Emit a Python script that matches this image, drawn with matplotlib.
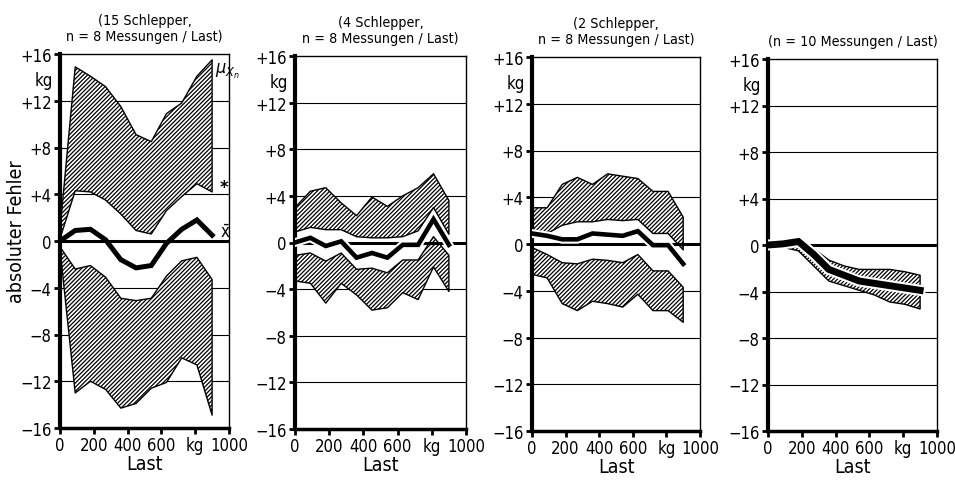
import numpy as np
import matplotlib
matplotlib.use("Agg")
import matplotlib.pyplot as plt
import matplotlib.patheffects as pe
import matplotlib.transforms as mtrans
from matplotlib import font_manager

# pick a narrow font if one is installed
narrow = [f for f in font_manager.fontManager.ttflist
          if 'Narrow' in f.name or f.stretch in ('condensed', 'semi-condensed')]
if narrow:
    plt.rcParams['font.family'] = [narrow[0].name, 'DejaVu Sans']
    plt.rcParams['font.stretch'] = narrow[0].stretch
    fs = 1.0
else:
    plt.rcParams['font.family'] = ['DejaVu Sans']
    fs = 0.85
plt.rcParams['hatch.linewidth'] = 0.9

# Last (kg) at which was measured
last = [0, 90, 180, 270, 360, 450, 540, 630, 720, 810, 900]

# panel 1: 15 Schlepper
p1_up_hi = [1.0, 14.9, 14.1, 13.2, 11.5, 9.1, 8.5, 10.9, 11.8, 14.1, 15.5]
p1_up_lo = [0.2, 4.3, 4.2, 3.5, 2.3, 0.9, 0.6, 2.6, 3.8, 4.9, 4.2]
p1_mean = [0.0, 0.9, 1.0, 0.1, -1.6, -2.3, -2.1, -0.2, 1.0, 1.8, 0.5]
p1_lo_hi = [-0.5, -2.4, -2.1, -3.1, -4.9, -5.1, -4.9, -3.0, -1.7, -1.4, -3.3]
p1_lo_lo = [-0.7, -13.0, -12.0, -12.7, -14.3, -13.9, -12.6, -12.1, -10.0, -10.6, -14.9]

# panel 2: 4 Schlepper
p2_up_hi = [3.0, 4.4, 4.7, 3.4, 2.3, 3.9, 3.1, 4.0, 4.7, 5.9, 3.6]
p2_up_lo = [0.9, 1.3, 1.1, 1.1, 0.5, 0.4, 0.4, 0.5, 1.0, 3.0, 0.7]
p2_mean = [0.0, 0.4, -0.3, 0.1, -1.3, -0.9, -1.3, -0.2, -0.2, 2.0, -0.2]
p2_lo_hi = [-1.1, -0.9, -1.6, -0.9, -2.3, -2.2, -2.6, -1.5, -1.5, 0.5, -1.1]
p2_lo_lo = [-3.3, -3.5, -5.2, -3.5, -4.5, -5.8, -5.6, -4.3, -4.9, -2.1, -4.2]

# panel 3: 2 Schlepper
p3_up_hi = [3.1, 3.1, 5.1, 5.7, 5.1, 6.0, 5.8, 5.6, 4.5, 4.5, 2.3]
p3_up_lo = [1.1, 0.9, 1.6, 1.9, 1.9, 2.1, 2.0, 2.1, 0.9, 0.9, -0.5]
p3_mean = [0.9, 0.7, 0.4, 0.4, 0.9, 0.8, 0.7, 1.1, -0.1, -0.1, -1.7]
p3_lo_hi = [-0.3, -0.9, -1.6, -1.7, -1.3, -1.4, -1.6, -0.9, -2.3, -2.3, -3.7]
p3_lo_lo = [-2.6, -2.9, -5.1, -5.7, -4.9, -5.1, -5.4, -4.3, -5.7, -5.7, -6.7]

# panel 4: n = 10
p4_hi = [0.1, 0.2, 0.5, -0.3, -1.3, -1.8, -2.1, -2.1, -2.1, -2.3, -2.6]
p4_mean = [0.0, 0.1, 0.3, -0.8, -2.1, -2.6, -3.1, -3.3, -3.5, -3.7, -3.9]
p4_lo = [-0.1, -0.2, -0.5, -1.8, -3.1, -3.5, -3.9, -4.3, -4.9, -5.1, -5.5]

titles = ["(15 Schlepper,\nn = 8 Messungen / Last)",
          "(4 Schlepper,\nn = 8 Messungen / Last)",
          "(2 Schlepper,\nn = 8 Messungen / Last)",
          "(n = 10 Messungen / Last)"]

yticks = [-16, -12, -8, -4, 0, 4, 8, 12, 16]
ylabels = ['\u221216', '\u221212', '\u22128', '\u22124', '0', '+4', '+8', '+12', '+16']
xticks = [0, 200, 400, 600, 800, 1000]
xlabels = ['0', '200', '400', '600', 'kg', '1000']

W, H = 955, 485
fig = plt.figure(figsize=(W / 100, H / 100), dpi=100)

# axes boxes in pixels: left, right, top, bottom
boxes = [(60, 229, 55, 429), (295, 466, 57, 430), (532, 700, 58, 432), (768, 937, 60, 432)]
axes = []
for l, r, t, b in boxes:
    ax = fig.add_axes([l / W, 1 - b / H, (r - l) / W, (b - t) / H])
    axes.append(ax)


def band(ax, lo, hi):
    ax.fill_between(last, lo, hi, facecolor='white', edgecolor='black',
                    hatch='////////', linewidth=1.0, zorder=2)


def mean_line(ax, y, lw=3.3, halo=True):
    eff = [pe.Stroke(linewidth=lw + 3, foreground='white'), pe.Normal()] if halo else None
    ax.plot(last, y, color='black', linewidth=lw, solid_joinstyle='miter',
            path_effects=eff, zorder=4)


band(axes[0], p1_up_lo, p1_up_hi)
band(axes[0], p1_lo_lo, p1_lo_hi)
mean_line(axes[0], p1_mean, lw=3.6, halo=False)

band(axes[1], p2_up_lo, p2_up_hi)
band(axes[1], p2_lo_lo, p2_lo_hi)
mean_line(axes[1], p2_mean)

band(axes[2], p3_up_lo, p3_up_hi)
band(axes[2], p3_lo_lo, p3_lo_hi)
mean_line(axes[2], p3_mean)

band(axes[3], p4_lo, p4_hi)
mean_line(axes[3], p4_mean, lw=5.0)

for i, ax in enumerate(axes):
    ax.set_xlim(0, 1000)
    ax.set_ylim(-16, 16)
    for g in [-12, -8, -4, 4, 8, 12]:
        ax.axhline(g, color='black', linewidth=0.8, zorder=1)
    ax.axhline(0, color='black', linewidth=2.2, zorder=3)
    ax.spines['left'].set_linewidth(3.0)
    ax.spines['bottom'].set_linewidth(2.5)
    ax.spines['top'].set_linewidth(1.0)
    ax.spines['right'].set_linewidth(1.0)
    ax.set_yticks(yticks)
    ax.set_yticklabels(ylabels, fontsize=12 * fs)
    ax.set_xticks(xticks)
    ax.set_xticklabels(xlabels, fontsize=12 * fs)
    ax.tick_params(axis='both', direction='out', length=4, width=2, pad=2)
    ax.set_xlabel('Last', fontsize=14 * fs, labelpad=0)
    ax.set_title(titles[i], fontsize=10.3 * fs, linespacing=1.15, pad=10)
    tr = mtrans.blended_transform_factory(ax.transAxes, ax.transData)
    ax.text(-0.04, 13.8, 'kg', transform=tr, ha='right', va='center', fontsize=12 * fs)

fig.text(16 / W, 1 - 232 / H, 'absoluter Fehler', rotation=90, ha='center', va='center',
         fontsize=14 * fs)

a0 = axes[0]
a0.text(920, 14.6, r'$\mu_{X_n}$', fontsize=13, ha='left', va='center', clip_on=False)
a0.text(945, 4.6, '*', fontsize=13, ha='left', va='center', clip_on=False, fontweight='bold')
a0.text(945, 0.8, r'$\bar{\mathrm{x}}$', fontsize=12, ha='left', va='center', clip_on=False)

fig.savefig('out.png', dpi=100)
